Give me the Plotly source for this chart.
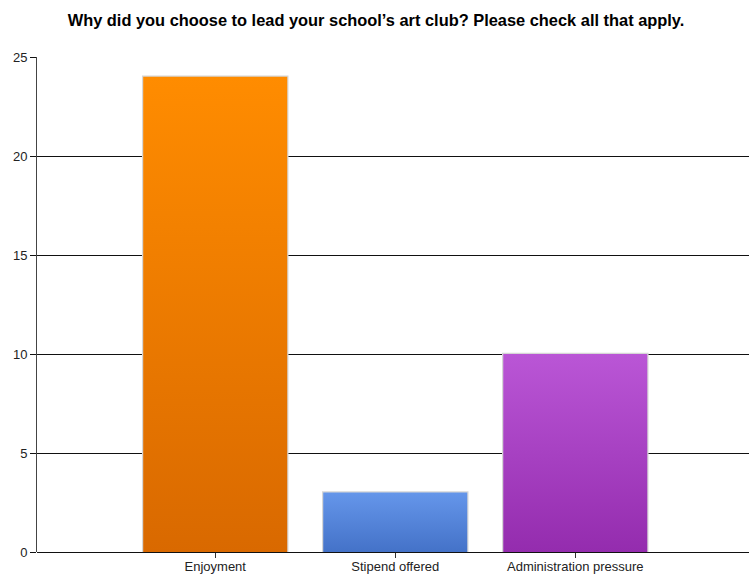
import plotly.graph_objects as go

# Survey responses
categories = ["Enjoyment", "Stipend offered", "Administration pressure"]
counts = [24, 3, 10]
# (bottom colour, top colour) for each bar's vertical gradient
gradients = [("#d96900", "#ff8c00"), ("#4472c8", "#6596ea"), ("#942cae", "#ba56d6")]
y_ticks = [0, 5, 10, 15, 20, 25]

positions = [1, 2, 3]
bar_width = 0.8

fig = go.Figure()

# Gradient-filled bodies of the bars
for pos, val, (c0, c1) in zip(positions, counts, gradients):
    x0, x1 = pos - bar_width / 2, pos + bar_width / 2
    fig.add_trace(go.Scatter(
        x=[x0, x1, x1, x0, x0], y=[0, 0, val, val, 0],
        mode="lines", line=dict(width=0), fill="toself",
        fillgradient=dict(type="vertical", colorscale=[[0, c0], [1, c1]]),
        hoverinfo="skip", showlegend=False,
    ))

# Bar outlines
fig.add_trace(go.Bar(
    x=positions, y=counts, width=bar_width,
    marker=dict(color="rgba(0,0,0,0)", line=dict(color="#d6d6d6", width=2.5)),
    showlegend=False,
))

fig.update_layout(
    width=749, height=575,
    margin=dict(l=37, r=0, t=57, b=23, autoexpand=False),
    paper_bgcolor="white", plot_bgcolor="white",
    font=dict(family="Liberation Sans, Arial, sans-serif", size=13, color="#222"),
    title=dict(
        text="<b>Why did you choose to lead your school\u2019s art club? Please check all that apply.</b>",
        x=0.502, xanchor="center", y=0.965, yanchor="middle",
        font=dict(size=16.4, color="black"),
    ),
    xaxis=dict(
        range=[0.01, 3.965], tickvals=positions, ticktext=categories,
        showgrid=False, zeroline=False, showline=False, automargin=False,
        ticks="outside", ticklen=5, tickcolor="#333", tickwidth=1,
        ticklabelstandoff=-3,
        tickfont=dict(size=13, color="#222"),
    ),
    yaxis=dict(
        range=[0, 25], tickvals=y_ticks, automargin=False,
        showgrid=True, gridcolor="#111", gridwidth=1,
        zeroline=True, zerolinecolor="#111", zerolinewidth=1,
        showline=True, linecolor="#444", linewidth=1,
        ticks="outside", ticklen=6, tickcolor="#111", tickwidth=1,
        tickfont=dict(size=13, color="#222"),
    ),
)

fig.write_html("out.html")
